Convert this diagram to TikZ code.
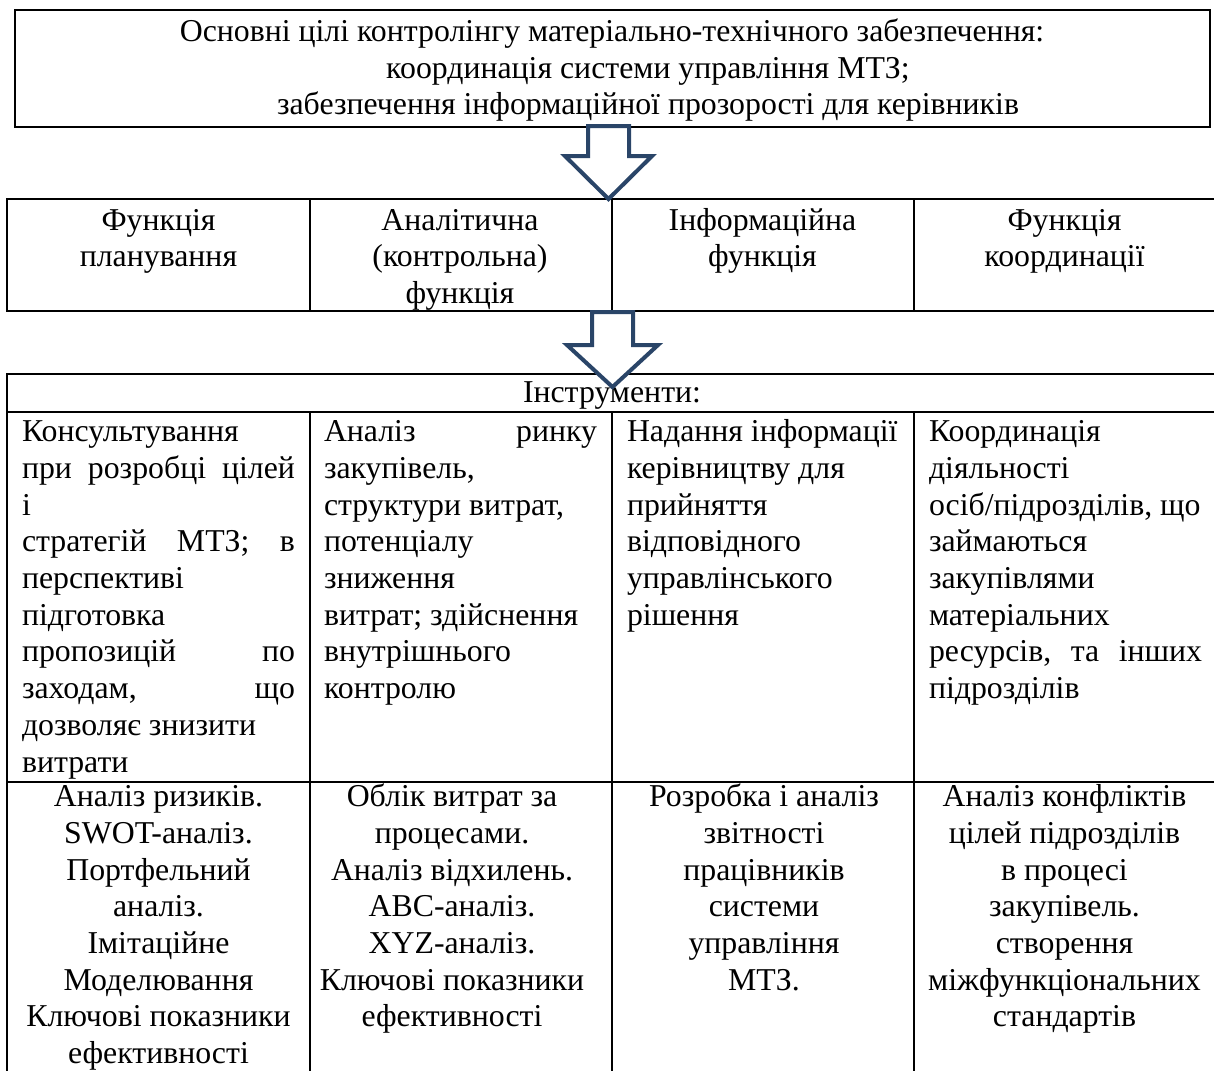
\documentclass[tikz,border=0pt]{standalone}
\usepackage{fontspec}
\setmainfont{Liberation Serif}
\definecolor{arrowblue}{HTML}{2A4568}
\newlength{\colw}\setlength{\colw}{273pt}
\newcommand{\fs}{\fontsize{31.8pt}{36.7pt}\selectfont}
\newcommand{\st}{\rule{0pt}{30pt}}
\begin{document}
\begin{tikzpicture}[x=1pt,y=-1pt,
  cell/.style={draw=black, line width=2.6pt, inner sep=0pt, outer sep=0pt, anchor=north west},
  txt/.style={font=\fs, inner sep=0pt, outer sep=0pt},
  lefttxt/.style={txt, anchor=north west, align=left},
  ctxt/.style={txt, anchor=north, align=center},
  blockarrow/.style={draw=arrowblue, fill=white, line width=4pt, line join=miter}
]
\useasboundingbox (0,0) rectangle (1214,1070);
\fill[white] (0,0) rectangle (1214,1070);
\clip (0,0) rectangle (1214,1070);

% goal box
\node[cell, minimum width=1195pt, minimum height=117pt] (goal) at (15,10) {};
\node[txt, anchor=base] (g1) at (612,41.5) {Основні цілі контролінгу матеріально-технічного забезпечення:};
\node[txt, anchor=base] (g2) at (648,78.2) {координація системи управління МТЗ;};
\node[txt, anchor=base] (g3) at (648,114.9) {забезпечення інформаційної прозорості для керівників};

% functions row
\node[cell, minimum width=303pt, minimum height=112pt] (f1) at (7,199) {};
\node[cell, minimum width=302pt, minimum height=112pt] (f2) at (310,199) {};
\node[cell, minimum width=302pt, minimum height=112pt] (f3) at (612,199) {};
\node[cell, minimum width=304pt, minimum height=112pt] (f4) at (914,199) {};
\node[ctxt] (ft1) at (158.5,200) {\st Функція\\планування};
\node[ctxt] (ft2) at (460,200) {\st Аналітична\\(контрольна)\\функція};
\node[ctxt] (ft3) at (762.5,200) {\st Інформаційна\\функція};
\node[ctxt] (ft4) at (1064.5,200) {\st Функція\\координації};

% tools table
\node[cell, minimum width=1211pt, minimum height=38pt] (head) at (7,374) {};
\node[txt, anchor=base] (headt) at (612,402) {Інструменти:};

\node[cell, minimum width=303pt, minimum height=370pt] (a1) at (7,412) {};
\node[cell, minimum width=302pt, minimum height=370pt] (a2) at (310,412) {};
\node[cell, minimum width=302pt, minimum height=370pt] (a3) at (612,412) {};
\node[cell, minimum width=304pt, minimum height=370pt] (a4) at (914,412) {};

\node[cell, minimum width=303pt, minimum height=300pt] (b1) at (7,782) {};
\node[cell, minimum width=302pt, minimum height=300pt] (b2) at (310,782) {};
\node[cell, minimum width=302pt, minimum height=300pt] (b3) at (612,782) {};
\node[cell, minimum width=304pt, minimum height=300pt] (b4) at (914,782) {};

\node[lefttxt] (at1) at (22,411.7) {\st Консультування\\\hbox to \colw{при\hfill розробці\hfill цілей}\\і\\\hbox to \colw{стратегій\hfill МТЗ;\hfill в}\\перспективі\\підготовка\\\hbox to \colw{пропозицій\hfill по}\\\hbox to \colw{заходам,\hfill що}\\дозволяє знизити\\витрати};
\node[lefttxt] (at2) at (324,411.7) {\st\hbox to \colw{Аналіз\hfill ринку}\\закупівель,\\структури витрат,\\потенціалу\\зниження\\витрат; здійснення\\внутрішнього\\контролю};
\node[lefttxt] (at3) at (627,411.7) {\st Надання інформації\\керівництву для\\прийняття\\відповідного\\управлінського\\рішення};
\node[lefttxt] (at4) at (929,411.7) {\st Координація\\діяльності\\осіб/підрозділів, що\\займаються\\закупівлями\\матеріальних\\\hbox to \colw{ресурсів,\hfill та\hfill інших}\\підрозділів};

\node[ctxt] (bt1) at (158.5,776.7) {\st Аналіз ризиків.\\SWOT-аналіз.\\Портфельний\\аналіз.\\Імітаційне\\Моделювання\\Ключові показники\\ефективності};
\node[ctxt] (bt2) at (452,776.7) {\st Облік витрат за\\процесами.\\Аналіз відхилень.\\ABC-аналіз.\\XYZ-аналіз.\\Ключові показники\\ефективності};
\node[ctxt] (bt3) at (764,776.7) {\st Розробка і аналіз\\звітності\\працівників\\системи\\управління\\МТЗ.};
\node[ctxt] (bt4) at (1064.5,776.7) {\st Аналіз конфліктів\\цілей підрозділів\\в процесі\\закупівель.\\створення\\міжфункціональних\\стандартів};

% block arrows
\draw[blockarrow] (588,126) -- (629,126) -- (629,156) -- (652,156) -- (608.5,199) -- (565,156) -- (588,156) -- cycle;
\draw[blockarrow] (592,312) -- (633,312) -- (633,345) -- (658,345) -- (612.5,387) -- (567,345) -- (592,345) -- cycle;
\end{tikzpicture}
\end{document}
